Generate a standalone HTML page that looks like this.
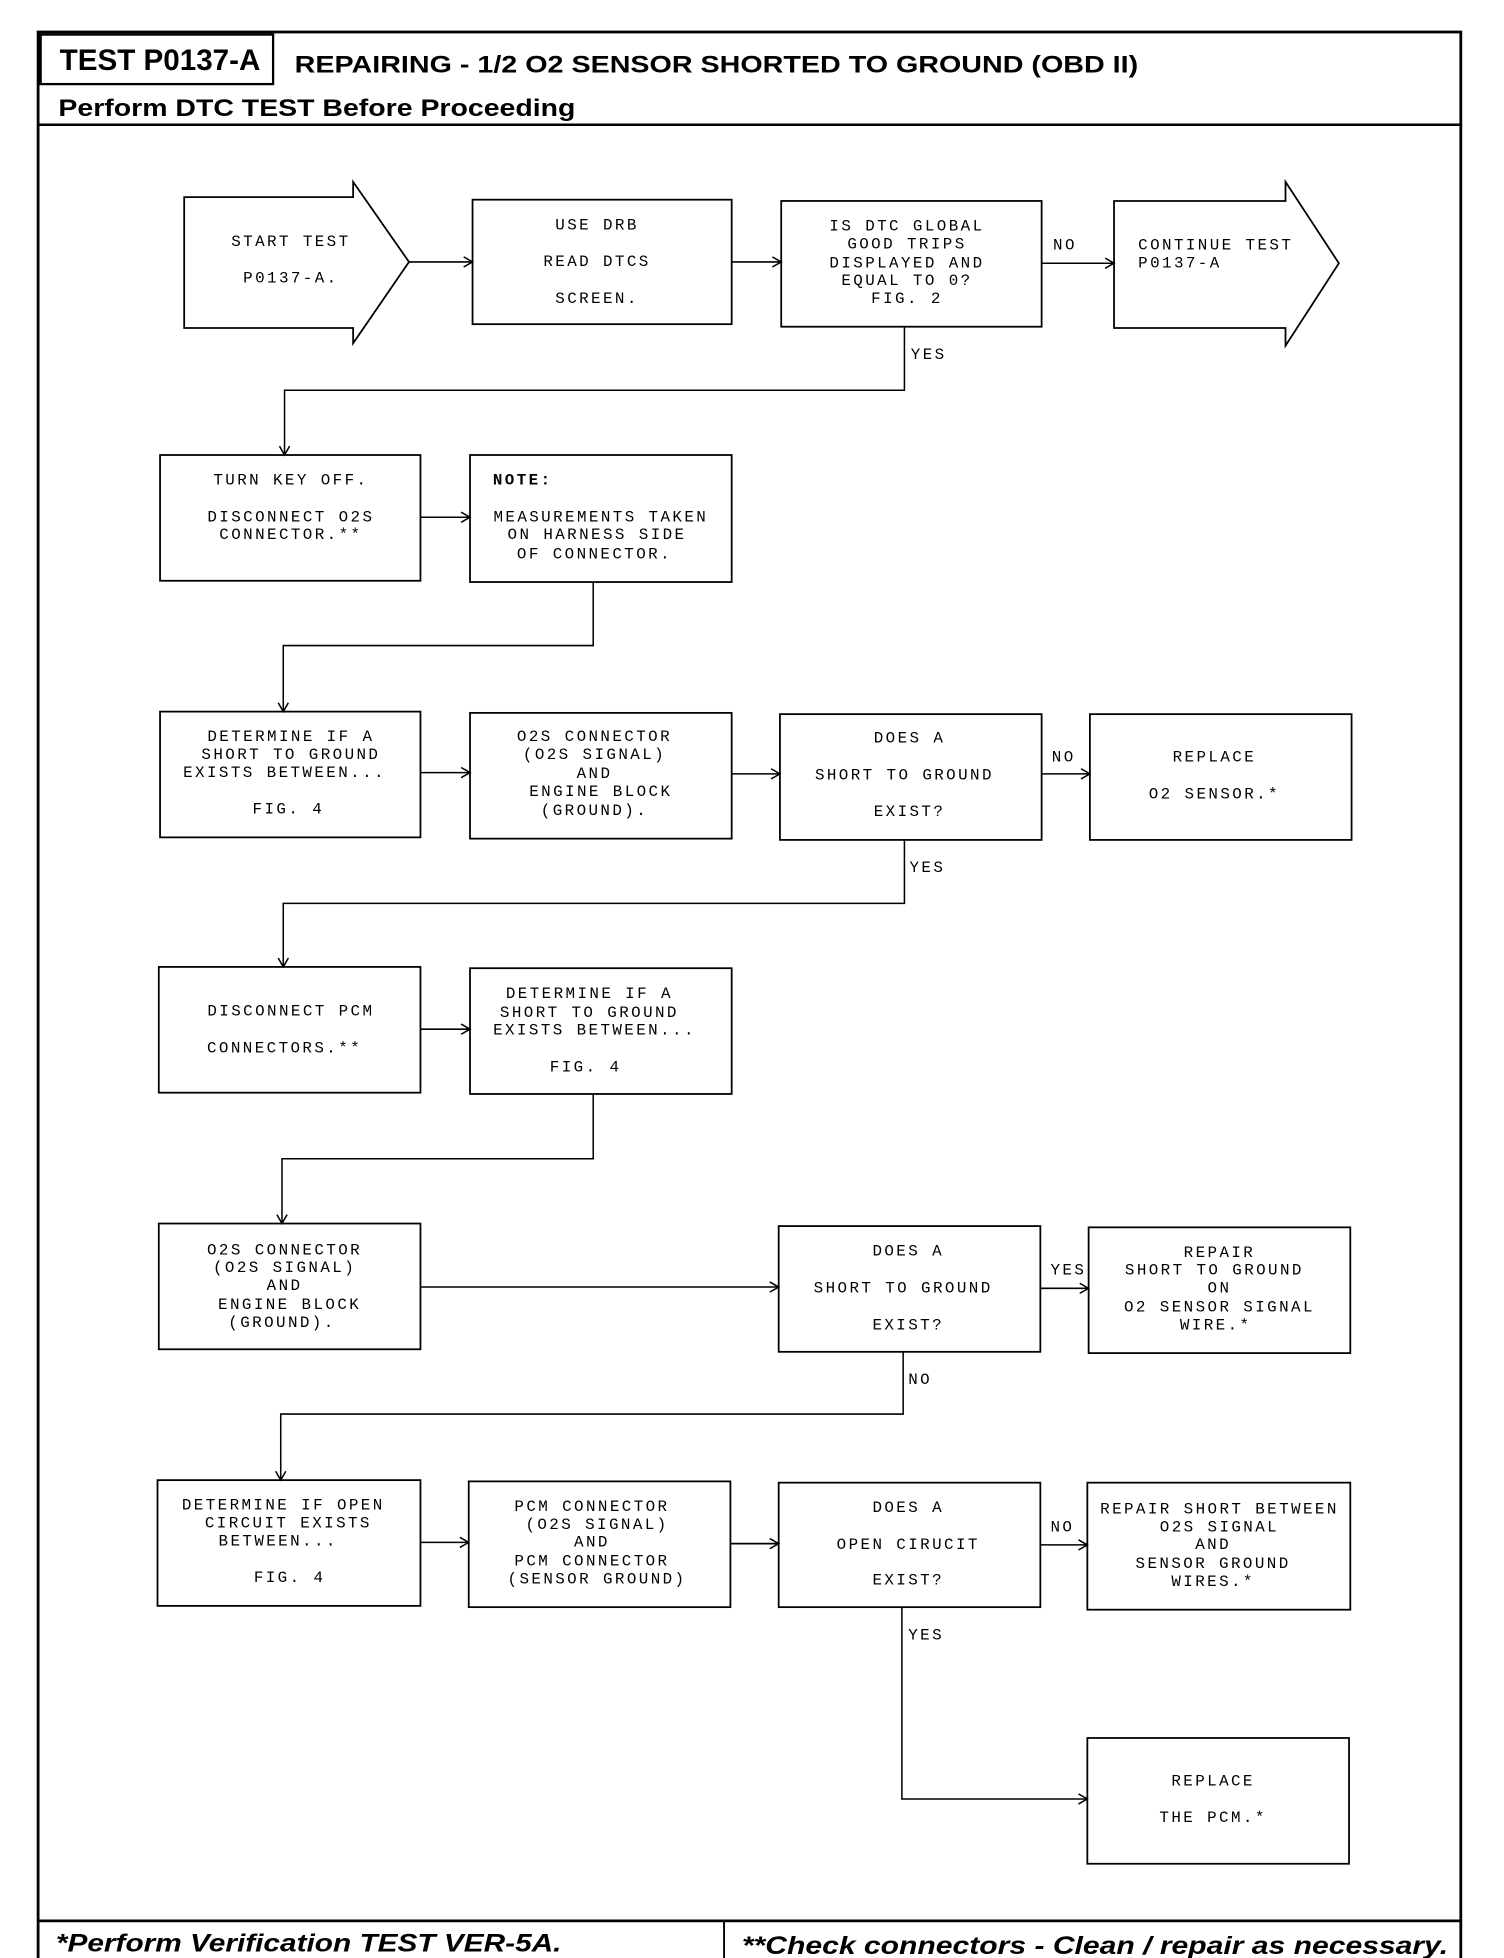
<!DOCTYPE html>
<html><head><meta charset="utf-8"><style>
html,body{margin:0;padding:0;background:#fff}
svg{display:block}
.m{font-family:"Liberation Mono",monospace;font-size:12.5px;letter-spacing:1.9px;fill:#000;text-anchor:middle;dominant-baseline:middle}
.l{text-anchor:start}
.h{font-family:"Liberation Sans",sans-serif;font-weight:bold;fill:#000}
.b{fill:none;stroke:#000;stroke-width:1.4}
.c{fill:none;stroke:#000;stroke-width:1.2}
</style></head><body>
<svg width="1504" height="1958" viewBox="0 0 1184 1541" xmlns="http://www.w3.org/2000/svg">
<defs><marker id="a" markerWidth="10" markerHeight="10" refX="9" refY="5" orient="auto" markerUnits="userSpaceOnUse"><polyline points="2,1 9,5 2,9" fill="none" stroke="#000" stroke-width="1.2"/></marker></defs>
<!-- frame -->
<rect x="30" y="25" width="1120" height="1525" fill="none" stroke="#000" stroke-width="2.2"/>
<rect x="32" y="27" width="183" height="39" fill="none" stroke="#000" stroke-width="1.8"/>
<line x1="30" y1="98" x2="1150" y2="98" stroke="#000" stroke-width="2"/>
<line x1="30" y1="1512" x2="1150" y2="1512" stroke="#000" stroke-width="2.2"/>
<line x1="570" y1="1512" x2="570" y2="1550" stroke="#000" stroke-width="1.5"/>
<text class="h" x="47" y="55" font-size="23" textLength="158" lengthAdjust="spacingAndGlyphs">TEST P0137-A</text>
<text class="h" x="232" y="57" font-size="19" textLength="664" lengthAdjust="spacingAndGlyphs">REPAIRING - 1/2 O2 SENSOR SHORTED TO GROUND (OBD II)</text>
<text class="h" x="46" y="91" font-size="19" textLength="407" lengthAdjust="spacingAndGlyphs">Perform DTC TEST Before Proceeding</text>
<text class="h" x="44" y="1536" font-size="20" font-style="italic" textLength="398" lengthAdjust="spacingAndGlyphs">*Perform Verification TEST VER-5A.</text>
<text class="h" x="584" y="1538" font-size="20" font-style="italic" textLength="556" lengthAdjust="spacingAndGlyphs">**Check connectors - Clean / repair as necessary.</text>

<!-- row1 -->
<polygon class="b" points="145,155 278,155 278,143 322,206 278,270 278,258 145,258"/>
<rect class="b" x="372" y="157" width="204" height="98"/>
<rect class="b" x="615" y="158" width="205" height="99"/>
<polygon class="b" points="877,158 1012,158 1012,143 1054,207 1012,272 1012,258 877,258"/>
<line class="c" x1="322" y1="206" x2="372" y2="206" marker-end="url(#a)"/>
<line class="c" x1="576" y1="206" x2="615" y2="206" marker-end="url(#a)"/>
<line class="c" x1="820" y1="207" x2="877" y2="207" marker-end="url(#a)"/>
<text class="m l" x="829" y="193">NO</text>
<polyline class="c" points="712,257 712,307 224,307 224,358" marker-end="url(#a)"/>
<text class="m l" x="717" y="279">YES</text>
<text class="m" x="229" y="190">START TEST</text><text class="m" x="229" y="219">P0137-A.</text>
<text class="m" x="470" y="177">USE DRB</text><text class="m" x="470" y="206">READ DTCS</text><text class="m" x="470" y="235">SCREEN.</text>
<text class="m" x="714" y="178">IS DTC GLOBAL</text><text class="m" x="714" y="192">GOOD TRIPS</text><text class="m" x="714" y="207">DISPLAYED AND</text><text class="m" x="714" y="221">EQUAL TO 0?</text><text class="m" x="714" y="235">FIG. 2</text>
<text class="m l" x="896" y="193">CONTINUE TEST</text><text class="m l" x="896" y="207">P0137-A</text>

<!-- row2 -->
<rect class="b" x="126" y="358" width="205" height="99"/>
<rect class="b" x="370" y="358" width="206" height="100"/>
<line class="c" x1="331" y1="407" x2="370" y2="407" marker-end="url(#a)"/>
<polyline class="c" points="467,458 467,508 223,508 223,560" marker-end="url(#a)"/>
<text class="m" x="229" y="378">TURN KEY OFF.</text><text class="m" x="229" y="407">DISCONNECT O2S</text><text class="m" x="229" y="421">CONNECTOR.**</text>
<text class="m l" x="388" y="378" font-weight="bold">NOTE:</text>
<text class="m" x="473" y="407">MEASUREMENTS TAKEN</text><text class="m" x="470" y="421">ON HARNESS SIDE</text><text class="m" x="468" y="436">OF CONNECTOR.</text>

<!-- row3 -->
<rect class="b" x="126" y="560" width="205" height="99"/>
<rect class="b" x="370" y="561" width="206" height="99"/>
<rect class="b" x="614" y="562" width="206" height="99"/>
<rect class="b" x="858" y="562" width="206" height="99"/>
<line class="c" x1="331" y1="608" x2="370" y2="608" marker-end="url(#a)"/>
<line class="c" x1="576" y1="609" x2="614" y2="609" marker-end="url(#a)"/>
<line class="c" x1="820" y1="609" x2="858" y2="609" marker-end="url(#a)"/>
<text class="m l" x="828" y="596">NO</text>
<polyline class="c" points="712,661 712,711 223,711 223,761" marker-end="url(#a)"/>
<text class="m l" x="716" y="683">YES</text>
<text class="m" x="229" y="580">DETERMINE IF A</text><text class="m" x="229" y="594">SHORT TO GROUND</text><text class="m" x="224" y="608">EXISTS BETWEEN...</text><text class="m" x="227" y="637">FIG. 4</text>
<text class="m" x="468" y="580">O2S CONNECTOR</text><text class="m" x="468" y="594">(O2S SIGNAL)</text><text class="m" x="468" y="609">AND</text><text class="m" x="473" y="623">ENGINE BLOCK</text><text class="m" x="468" y="638">(GROUND).</text>
<text class="m" x="716" y="581">DOES A</text><text class="m" x="712" y="610">SHORT TO GROUND</text><text class="m" x="716" y="639">EXIST?</text>
<text class="m" x="956" y="596">REPLACE</text><text class="m" x="956" y="625">O2 SENSOR.*</text>

<!-- row4 -->
<rect class="b" x="125" y="761" width="206" height="99"/>
<rect class="b" x="370" y="762" width="206" height="99"/>
<line class="c" x1="331" y1="810" x2="370" y2="810" marker-end="url(#a)"/>
<polyline class="c" points="467,861 467,912 222,912 222,963" marker-end="url(#a)"/>
<text class="m" x="229" y="796">DISCONNECT PCM</text><text class="m" x="224" y="825">CONNECTORS.**</text>
<text class="m" x="464" y="782">DETERMINE IF A</text><text class="m" x="464" y="797">SHORT TO GROUND</text><text class="m" x="468" y="811">EXISTS BETWEEN...</text><text class="m" x="461" y="840">FIG. 4</text>

<!-- row5 -->
<rect class="b" x="125" y="963" width="206" height="99"/>
<rect class="b" x="613" y="965" width="206" height="99"/>
<rect class="b" x="857" y="966" width="206" height="99"/>
<line class="c" x1="331" y1="1013" x2="613" y2="1013" marker-end="url(#a)"/>
<line class="c" x1="819" y1="1014" x2="857" y2="1014" marker-end="url(#a)"/>
<text class="m l" x="827" y="1000">YES</text>
<polyline class="c" points="711,1064 711,1113 221,1113 221,1165" marker-end="url(#a)"/>
<text class="m l" x="715" y="1086">NO</text>
<text class="m" x="224" y="984">O2S CONNECTOR</text><text class="m" x="224" y="998">(O2S SIGNAL)</text><text class="m" x="224" y="1012">AND</text><text class="m" x="228" y="1027">ENGINE BLOCK</text><text class="m" x="222" y="1041">(GROUND).</text>
<text class="m" x="715" y="985">DOES A</text><text class="m" x="711" y="1014">SHORT TO GROUND</text><text class="m" x="715" y="1043">EXIST?</text>
<text class="m" x="960" y="986">REPAIR</text><text class="m" x="956" y="1000">SHORT TO GROUND</text><text class="m" x="960" y="1014">ON</text><text class="m" x="960" y="1029">O2 SENSOR SIGNAL</text><text class="m" x="957" y="1043">WIRE.*</text>

<!-- row6 -->
<rect class="b" x="124" y="1165" width="207" height="99"/>
<rect class="b" x="369" y="1166" width="206" height="99"/>
<rect class="b" x="613" y="1167" width="206" height="98"/>
<rect class="b" x="856" y="1167" width="207" height="100"/>
<line class="c" x1="331" y1="1214" x2="369" y2="1214" marker-end="url(#a)"/>
<line class="b" x1="575" y1="1215" x2="613" y2="1215" stroke-width="2.2" marker-end="url(#a)"/>
<line class="c" x1="819" y1="1216" x2="856" y2="1216" marker-end="url(#a)"/>
<text class="m l" x="827" y="1202">NO</text>
<polyline class="c" points="710,1265 710,1416 856,1416" marker-end="url(#a)"/>
<text class="m l" x="715" y="1287">YES</text>
<text class="m" x="223" y="1185">DETERMINE IF OPEN</text><text class="m" x="227" y="1199">CIRCUIT EXISTS</text><text class="m" x="219" y="1213">BETWEEN...</text><text class="m" x="228" y="1242">FIG. 4</text>
<text class="m" x="466" y="1186">PCM CONNECTOR</text><text class="m" x="470" y="1200">(O2S SIGNAL)</text><text class="m" x="466" y="1214">AND</text><text class="m" x="466" y="1229">PCM CONNECTOR</text><text class="m" x="470" y="1243">(SENSOR GROUND)</text>
<text class="m" x="715" y="1187">DOES A</text><text class="m" x="715" y="1216">OPEN CIRUCIT</text><text class="m" x="715" y="1244">EXIST?</text>
<text class="m" x="960" y="1188">REPAIR SHORT BETWEEN</text><text class="m" x="960" y="1202">O2S SIGNAL</text><text class="m" x="955" y="1216">AND</text><text class="m" x="955" y="1231">SENSOR GROUND</text><text class="m" x="955" y="1245">WIRES.*</text>

<!-- last -->
<rect class="b" x="856" y="1368" width="206" height="99"/>
<text class="m" x="955" y="1402">REPLACE</text><text class="m" x="955" y="1431">THE PCM.*</text>
</svg>
</body></html>
